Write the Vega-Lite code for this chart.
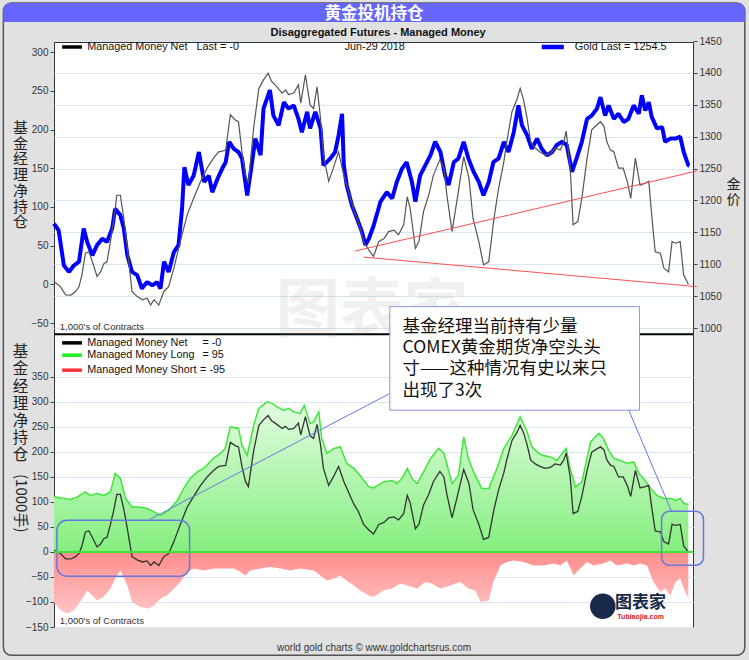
{
"$schema":"https://vega.github.io/schema/vega-lite/v6.json",
"width":639,"height":585,
"autosize":{"type":"none"},
"padding":{"left":54,"top":42,"right":56,"bottom":33},
"background":"#e1e1e1",
"config":{
 "view":{"stroke":"#333","strokeWidth":1,"fill":"#ffffff"},
 "axis":{"labelFont":"Liberation Sans","labelFontSize":10,"labelColor":"#333","tickColor":"#444","domain":false,"titleFont":"Noto Sans CJK SC","titleFontWeight":"normal","titleColor":"#222","gridColor":"#d9e5f3"},
 "text":{"font":"Liberation Sans"}
},
"datasets":{
"net":[
{"date":"2015-07-03","net":3.5},{"date":"2015-07-14","net":-3},{"date":"2015-07-23","net":-13.7},{"date":"2015-08-01","net":-14},{"date":"2015-08-09","net":-9.4},{"date":"2015-08-15","net":-3},{"date":"2015-08-20","net":12},{"date":"2015-08-26","net":40},{"date":"2015-09-01","net":42},{"date":"2015-09-07","net":29},{"date":"2015-09-15","net":10},{"date":"2015-09-21","net":16},{"date":"2015-09-27","net":27},{"date":"2015-10-02","net":29},{"date":"2015-10-08","net":55},{"date":"2015-10-14","net":85},{"date":"2015-10-19","net":115},{"date":"2015-10-25","net":115},{"date":"2015-10-31","net":85},{"date":"2015-11-06","net":46.5},{"date":"2015-11-14","net":-9.4},{"date":"2015-11-23","net":-16},{"date":"2015-12-02","net":-20},{"date":"2015-12-10","net":-18},{"date":"2015-12-16","net":-27},{"date":"2015-12-22","net":-20},{"date":"2015-12-30","net":-27},{"date":"2016-01-08","net":-9},{"date":"2016-01-16","net":-3},{"date":"2016-01-25","net":20.7},{"date":"2016-02-05","net":55},{"date":"2016-02-17","net":90},{"date":"2016-02-28","net":111},{"date":"2016-03-11","net":133},{"date":"2016-03-22","net":150},{"date":"2016-04-02","net":163},{"date":"2016-04-11","net":171},{"date":"2016-04-23","net":173},{"date":"2016-05-01","net":219},{"date":"2016-05-10","net":212},{"date":"2016-05-15","net":210},{"date":"2016-05-21","net":171},{"date":"2016-05-27","net":141},{"date":"2016-06-01","net":130.5},{"date":"2016-06-10","net":201.5},{"date":"2016-06-19","net":253},{"date":"2016-06-27","net":264},{"date":"2016-07-05","net":272.6},{"date":"2016-07-11","net":262},{"date":"2016-07-20","net":255},{"date":"2016-07-29","net":247},{"date":"2016-08-04","net":251},{"date":"2016-08-09","net":245},{"date":"2016-08-18","net":247},{"date":"2016-08-26","net":257.6},{"date":"2016-08-30","net":234},{"date":"2016-09-07","net":270.5},{"date":"2016-09-15","net":232},{"date":"2016-09-21","net":227},{"date":"2016-09-27","net":255},{"date":"2016-10-03","net":214},{"date":"2016-10-08","net":167},{"date":"2016-10-17","net":133},{"date":"2016-10-25","net":150},{"date":"2016-11-03","net":171},{"date":"2016-11-12","net":141},{"date":"2016-11-20","net":120},{"date":"2016-11-29","net":96},{"date":"2016-12-07","net":81},{"date":"2016-12-16","net":55},{"date":"2016-12-25","net":44},{"date":"2017-01-02","net":36},{"date":"2017-01-11","net":55},{"date":"2017-01-20","net":59},{"date":"2017-01-28","net":68},{"date":"2017-02-06","net":70},{"date":"2017-02-14","net":64},{"date":"2017-02-23","net":77},{"date":"2017-03-01","net":113},{"date":"2017-03-06","net":98},{"date":"2017-03-15","net":46.5},{"date":"2017-03-21","net":55},{"date":"2017-03-29","net":94},{"date":"2017-04-07","net":115.5},{"date":"2017-04-15","net":141},{"date":"2017-04-26","net":161},{"date":"2017-05-03","net":150},{"date":"2017-05-08","net":115.5},{"date":"2017-05-17","net":68},{"date":"2017-05-26","net":111},{"date":"2017-06-06","net":165},{"date":"2017-06-15","net":137},{"date":"2017-06-22","net":85},{"date":"2017-07-02","net":55},{"date":"2017-07-10","net":25},{"date":"2017-07-19","net":29},{"date":"2017-07-28","net":85},{"date":"2017-08-05","net":124},{"date":"2017-08-14","net":158.5},{"date":"2017-08-19","net":184},{"date":"2017-08-28","net":223},{"date":"2017-09-06","net":240},{"date":"2017-09-11","net":253},{"date":"2017-09-17","net":238},{"date":"2017-09-23","net":214},{"date":"2017-09-29","net":184},{"date":"2017-10-07","net":176},{"date":"2017-10-15","net":171},{"date":"2017-10-24","net":167},{"date":"2017-11-02","net":169},{"date":"2017-11-10","net":176},{"date":"2017-11-19","net":173.6},{"date":"2017-11-25","net":184},{"date":"2017-11-29","net":198},{"date":"2017-12-06","net":150},{"date":"2017-12-11","net":77},{"date":"2017-12-19","net":81},{"date":"2017-12-26","net":111},{"date":"2018-01-04","net":163},{"date":"2018-01-12","net":199.5},{"date":"2018-01-21","net":206},{"date":"2018-01-27","net":210},{"date":"2018-02-02","net":204},{"date":"2018-02-07","net":184},{"date":"2018-02-13","net":173.6},{"date":"2018-02-19","net":171},{"date":"2018-02-27","net":150},{"date":"2018-03-07","net":150},{"date":"2018-03-14","net":133},{"date":"2018-03-20","net":111},{"date":"2018-03-28","net":163},{"date":"2018-04-05","net":128},{"date":"2018-04-14","net":130.5},{"date":"2018-04-20","net":133},{"date":"2018-04-25","net":90},{"date":"2018-05-01","net":42},{"date":"2018-05-10","net":40},{"date":"2018-05-16","net":20.7},{"date":"2018-05-24","net":16},{"date":"2018-05-30","net":55},{"date":"2018-06-05","net":53},{"date":"2018-06-13","net":55},{"date":"2018-06-19","net":12},{"date":"2018-06-27","net":0}
],
"gold":[
{"date":"2015-07-03","gold":1163.6},{"date":"2015-07-11","gold":1153},{"date":"2015-07-20","gold":1098},{"date":"2015-07-29","gold":1088},{"date":"2015-08-06","gold":1098},{"date":"2015-08-15","gold":1104},{"date":"2015-08-23","gold":1156},{"date":"2015-08-29","gold":1135},{"date":"2015-09-07","gold":1114},{"date":"2015-09-15","gold":1130},{"date":"2015-09-24","gold":1140},{"date":"2015-10-02","gold":1135},{"date":"2015-10-11","gold":1156},{"date":"2015-10-16","gold":1187},{"date":"2015-10-25","gold":1177},{"date":"2015-10-31","gold":1156},{"date":"2015-11-06","gold":1114},{"date":"2015-11-14","gold":1088},{"date":"2015-11-23","gold":1083},{"date":"2015-12-01","gold":1062},{"date":"2015-12-10","gold":1072},{"date":"2015-12-19","gold":1067},{"date":"2015-12-27","gold":1072},{"date":"2016-01-02","gold":1062},{"date":"2016-01-08","gold":1104},{"date":"2016-01-16","gold":1088},{"date":"2016-01-25","gold":1119},{"date":"2016-02-02","gold":1130},{"date":"2016-02-08","gold":1187},{"date":"2016-02-12","gold":1252},{"date":"2016-02-19","gold":1224},{"date":"2016-02-28","gold":1239},{"date":"2016-03-08","gold":1276},{"date":"2016-03-17","gold":1229},{"date":"2016-03-25","gold":1239},{"date":"2016-03-31","gold":1213},{"date":"2016-04-09","gold":1234},{"date":"2016-04-17","gold":1250},{"date":"2016-04-23","gold":1260},{"date":"2016-04-29","gold":1292},{"date":"2016-05-07","gold":1281},{"date":"2016-05-15","gold":1276},{"date":"2016-05-21","gold":1266},{"date":"2016-05-30","gold":1208},{"date":"2016-06-05","gold":1245},{"date":"2016-06-13","gold":1297},{"date":"2016-06-22","gold":1271},{"date":"2016-06-27","gold":1344},{"date":"2016-07-08","gold":1373},{"date":"2016-07-14","gold":1333},{"date":"2016-07-23","gold":1318},{"date":"2016-08-01","gold":1354},{"date":"2016-08-09","gold":1344},{"date":"2016-08-18","gold":1349},{"date":"2016-08-26","gold":1328},{"date":"2016-09-01","gold":1307},{"date":"2016-09-10","gold":1339},{"date":"2016-09-15","gold":1313},{"date":"2016-09-24","gold":1339},{"date":"2016-10-03","gold":1313},{"date":"2016-10-08","gold":1255},{"date":"2016-10-20","gold":1266},{"date":"2016-10-28","gold":1276},{"date":"2016-11-03","gold":1302},{"date":"2016-11-09","gold":1336},{"date":"2016-11-12","gold":1255},{"date":"2016-11-17","gold":1224},{"date":"2016-11-26","gold":1192},{"date":"2016-12-05","gold":1171},{"date":"2016-12-13","gold":1151},{"date":"2016-12-19","gold":1130},{"date":"2016-12-25","gold":1140},{"date":"2017-01-02","gold":1160},{"date":"2017-01-14","gold":1198},{"date":"2017-01-25","gold":1213},{"date":"2017-02-03","gold":1203},{"date":"2017-02-11","gold":1229},{"date":"2017-02-20","gold":1250},{"date":"2017-02-28","gold":1260},{"date":"2017-03-09","gold":1229},{"date":"2017-03-15","gold":1198},{"date":"2017-03-23","gold":1239},{"date":"2017-04-01","gold":1255},{"date":"2017-04-10","gold":1271},{"date":"2017-04-18","gold":1292},{"date":"2017-04-27","gold":1276},{"date":"2017-05-05","gold":1239},{"date":"2017-05-11","gold":1224},{"date":"2017-05-20","gold":1260},{"date":"2017-05-28","gold":1266},{"date":"2017-06-06","gold":1292},{"date":"2017-06-14","gold":1266},{"date":"2017-06-23","gold":1245},{"date":"2017-07-02","gold":1229},{"date":"2017-07-10","gold":1208},{"date":"2017-07-19","gold":1229},{"date":"2017-07-27","gold":1260},{"date":"2017-08-05","gold":1266},{"date":"2017-08-14","gold":1292},{"date":"2017-08-22","gold":1276},{"date":"2017-08-31","gold":1307},{"date":"2017-09-08","gold":1349},{"date":"2017-09-14","gold":1318},{"date":"2017-09-23","gold":1302},{"date":"2017-10-01","gold":1281},{"date":"2017-10-10","gold":1297},{"date":"2017-10-18","gold":1281},{"date":"2017-10-27","gold":1271},{"date":"2017-11-05","gold":1276},{"date":"2017-11-13","gold":1287},{"date":"2017-11-22","gold":1292},{"date":"2017-11-30","gold":1287},{"date":"2017-12-09","gold":1245},{"date":"2017-12-17","gold":1266},{"date":"2017-12-26","gold":1292},{"date":"2018-01-04","gold":1328},{"date":"2018-01-12","gold":1333},{"date":"2018-01-21","gold":1344},{"date":"2018-01-27","gold":1362},{"date":"2018-02-04","gold":1333},{"date":"2018-02-10","gold":1349},{"date":"2018-02-19","gold":1328},{"date":"2018-02-27","gold":1336},{"date":"2018-03-08","gold":1323},{"date":"2018-03-16","gold":1328},{"date":"2018-03-25","gold":1349},{"date":"2018-04-03","gold":1336},{"date":"2018-04-08","gold":1365},{"date":"2018-04-14","gold":1341},{"date":"2018-04-20","gold":1354},{"date":"2018-04-25","gold":1331},{"date":"2018-05-04","gold":1313},{"date":"2018-05-13","gold":1315},{"date":"2018-05-18","gold":1292},{"date":"2018-05-27","gold":1297},{"date":"2018-06-05","gold":1297},{"date":"2018-06-13","gold":1300},{"date":"2018-06-19","gold":1276},{"date":"2018-06-27","gold":1255},{"date":"2018-06-29","gold":1254.5}
],
"long":[
{"date":"2015-07-03","long":111},{"date":"2015-07-14","long":108},{"date":"2015-08-01","long":105},{"date":"2015-08-12","long":110},{"date":"2015-08-26","long":120},{"date":"2015-09-03","long":113},{"date":"2015-09-15","long":117},{"date":"2015-09-26","long":113},{"date":"2015-10-08","long":120},{"date":"2015-10-16","long":157},{"date":"2015-10-25","long":147},{"date":"2015-11-03","long":107},{"date":"2015-11-14","long":90},{"date":"2015-11-26","long":90},{"date":"2015-12-10","long":87},{"date":"2015-12-22","long":80},{"date":"2016-01-02","long":73},{"date":"2016-01-16","long":83},{"date":"2016-01-31","long":103},{"date":"2016-02-11","long":127},{"date":"2016-02-22","long":147},{"date":"2016-03-05","long":160},{"date":"2016-03-16","long":167},{"date":"2016-04-02","long":187},{"date":"2016-04-14","long":197},{"date":"2016-04-22","long":207},{"date":"2016-05-01","long":250},{"date":"2016-05-15","long":247},{"date":"2016-05-21","long":213},{"date":"2016-05-30","long":193},{"date":"2016-06-10","long":253},{"date":"2016-06-19","long":287},{"date":"2016-07-03","long":300},{"date":"2016-07-12","long":297},{"date":"2016-07-20","long":290},{"date":"2016-08-01","long":283},{"date":"2016-08-09","long":287},{"date":"2016-08-18","long":280},{"date":"2016-08-29","long":277},{"date":"2016-09-05","long":293},{"date":"2016-09-15","long":257},{"date":"2016-09-21","long":260},{"date":"2016-09-30","long":280},{"date":"2016-10-05","long":227},{"date":"2016-10-14","long":197},{"date":"2016-10-26","long":207},{"date":"2016-11-06","long":210},{"date":"2016-11-17","long":177},{"date":"2016-11-29","long":167},{"date":"2016-12-10","long":153},{"date":"2016-12-25","long":130},{"date":"2017-01-02","long":128},{"date":"2017-01-19","long":140},{"date":"2017-02-03","long":143},{"date":"2017-02-11","long":137},{"date":"2017-02-20","long":147},{"date":"2017-03-01","long":167},{"date":"2017-03-09","long":147},{"date":"2017-03-18","long":137},{"date":"2017-03-29","long":160},{"date":"2017-04-10","long":187},{"date":"2017-04-24","long":207},{"date":"2017-05-03","long":197},{"date":"2017-05-17","long":137},{"date":"2017-05-28","long":153},{"date":"2017-06-06","long":230},{"date":"2017-06-14","long":187},{"date":"2017-06-23","long":160},{"date":"2017-07-07","long":127},{"date":"2017-07-19","long":127},{"date":"2017-08-02","long":167},{"date":"2017-08-14","long":207},{"date":"2017-08-28","long":233},{"date":"2017-09-11","long":270},{"date":"2017-09-23","long":240},{"date":"2017-10-01","long":210},{"date":"2017-10-13","long":197},{"date":"2017-10-21","long":193},{"date":"2017-11-02","long":190},{"date":"2017-11-13","long":183},{"date":"2017-11-22","long":197},{"date":"2017-11-29","long":207},{"date":"2017-12-06","long":167},{"date":"2017-12-15","long":130},{"date":"2017-12-26","long":140},{"date":"2018-01-10","long":220},{"date":"2018-01-24","long":237},{"date":"2018-02-01","long":227},{"date":"2018-02-10","long":203},{"date":"2018-02-19","long":187},{"date":"2018-03-02","long":183},{"date":"2018-03-14","long":177},{"date":"2018-03-25","long":180},{"date":"2018-04-03","long":157},{"date":"2018-04-11","long":147},{"date":"2018-04-23","long":127},{"date":"2018-05-04","long":113},{"date":"2018-05-16","long":107},{"date":"2018-05-29","long":107},{"date":"2018-06-05","long":103},{"date":"2018-06-13","long":107},{"date":"2018-06-19","long":97},{"date":"2018-06-27","long":95}
],
"short":[
{"date":"2015-07-03","short":-100},{"date":"2015-07-14","short":-117},{"date":"2015-07-26","short":-123},{"date":"2015-08-06","short":-117},{"date":"2015-08-17","short":-100},{"date":"2015-08-29","short":-77},{"date":"2015-09-07","short":-87},{"date":"2015-09-15","short":-97},{"date":"2015-09-26","short":-90},{"date":"2015-10-08","short":-73},{"date":"2015-10-16","short":-53},{"date":"2015-10-25","short":-37},{"date":"2015-11-06","short":-67},{"date":"2015-11-14","short":-100},{"date":"2015-11-28","short":-110},{"date":"2015-12-13","short":-113},{"date":"2015-12-22","short":-107},{"date":"2016-01-02","short":-93},{"date":"2016-01-13","short":-87},{"date":"2016-01-25","short":-73},{"date":"2016-02-05","short":-60},{"date":"2016-02-17","short":-40},{"date":"2016-02-28","short":-33},{"date":"2016-03-16","short":-37},{"date":"2016-04-02","short":-33},{"date":"2016-04-20","short":-33},{"date":"2016-05-07","short":-33},{"date":"2016-05-18","short":-40},{"date":"2016-05-27","short":-47},{"date":"2016-06-04","short":-37},{"date":"2016-06-22","short":-33},{"date":"2016-07-09","short":-30},{"date":"2016-07-26","short":-33},{"date":"2016-08-12","short":-37},{"date":"2016-08-29","short":-33},{"date":"2016-09-21","short":-37},{"date":"2016-10-03","short":-47},{"date":"2016-10-14","short":-57},{"date":"2016-10-26","short":-53},{"date":"2016-11-06","short":-47},{"date":"2016-11-17","short":-57},{"date":"2016-11-29","short":-67},{"date":"2016-12-10","short":-77},{"date":"2016-12-25","short":-87},{"date":"2017-01-02","short":-90},{"date":"2017-01-19","short":-77},{"date":"2017-02-03","short":-73},{"date":"2017-02-17","short":-63},{"date":"2017-03-01","short":-67},{"date":"2017-03-18","short":-73},{"date":"2017-04-01","short":-60},{"date":"2017-04-12","short":-63},{"date":"2017-04-27","short":-73},{"date":"2017-05-14","short":-67},{"date":"2017-05-31","short":-60},{"date":"2017-06-14","short":-73},{"date":"2017-06-26","short":-77},{"date":"2017-07-05","short":-100},{"date":"2017-07-19","short":-97},{"date":"2017-07-27","short":-60},{"date":"2017-08-08","short":-27},{"date":"2017-08-19","short":-20},{"date":"2017-08-31","short":-17},{"date":"2017-09-17","short":-20},{"date":"2017-10-04","short":-27},{"date":"2017-10-21","short":-27},{"date":"2017-11-08","short":-23},{"date":"2017-11-19","short":-27},{"date":"2017-11-30","short":-17},{"date":"2017-12-12","short":-47},{"date":"2017-12-23","short":-33},{"date":"2018-01-04","short":-20},{"date":"2018-01-15","short":-27},{"date":"2018-02-01","short":-23},{"date":"2018-02-13","short":-17},{"date":"2018-02-24","short":-27},{"date":"2018-03-14","short":-23},{"date":"2018-03-25","short":-27},{"date":"2018-04-05","short":-23},{"date":"2018-04-17","short":-27},{"date":"2018-04-28","short":-60},{"date":"2018-05-10","short":-80},{"date":"2018-05-18","short":-73},{"date":"2018-05-27","short":-87},{"date":"2018-06-05","short":-60},{"date":"2018-06-13","short":-53},{"date":"2018-06-19","short":-73},{"date":"2018-06-27","short":-93}
]
},
"layer":[
{"layer":[
 {"data":{"name":"gold"},"mark":{"type":"line","color":"#0000ff","strokeWidth":4,"strokeJoin":"bevel"},
  "encoding":{"x":{"field":"date","type":"temporal","axis":null},
   "y":{"field":"gold","type":"quantitative","scale":{"domain":[992.2,1450],"range":[291,-1],"nice":false,"zero":false},
    "axis":{"orient":"right","values":[1000,1050,1100,1150,1200,1250,1300,1350,1400,1450],"format":"d","grid":true,"tickSize":4,"labelPadding":2,
     "title":["金","价"],"titleAngle":0,"titleX":40,"titleY":142,"titleAlign":"center","titleBaseline":"middle","titleFontSize":14,"titleLineHeight":15.5}}}}
]},
{"layer":[
 {"data":{"name":"net"},"mark":{"type":"line","color":"#555555","strokeWidth":1.2},
  "encoding":{"x":{"field":"date","type":"temporal","axis":null},
   "y":{"field":"net","type":"quantitative","scale":{"domain":[-63,313],"range":[291,0],"nice":false,"zero":false},"axis":null}}}
]},
{"layer":[
 {"data":{"name":"long"},"mark":{"type":"area","opacity":1,"fill":{"gradient":"linear","x1":0,"y1":0,"x2":0,"y2":1,"stops":[{"offset":0,"color":"#e3fce1"},{"offset":1,"color":"#84ef7e"}]},"line":{"color":"#3ee83a","strokeWidth":1.5}},
  "encoding":{"x":{"field":"date","type":"temporal",
    "scale":{"type":"utc","domain":[{"year":2015,"month":7,"date":3,"utc":true},{"year":2018,"month":7,"date":5,"utc":true}]},
    "axis":{"values":[{"year":2015,"month":10,"date":1,"utc":true},{"year":2016,"month":1,"date":1,"utc":true},{"year":2016,"month":4,"date":1,"utc":true},{"year":2016,"month":7,"date":1,"utc":true},{"year":2016,"month":10,"date":1,"utc":true},{"year":2017,"month":1,"date":1,"utc":true},{"year":2017,"month":4,"date":1,"utc":true},{"year":2017,"month":7,"date":1,"utc":true},{"year":2017,"month":10,"date":1,"utc":true},{"year":2018,"month":1,"date":1,"utc":true},{"year":2018,"month":4,"date":1,"utc":true}],
     "labelExpr":"utcFormat(datum.value, '%m') == '01' ? utcFormat(datum.value, '%Y') : (utcFormat(datum.value, '%Y%m') == '201510' ? '2015' : utcFormat(datum.value, '%b'))",
     "title":null,"grid":true,"tickSize":4,"labelFontWeight":"bold","labelColor":"#222","labelPadding":1}},
   "y":{"field":"long","type":"quantitative","scale":{"domain":[-150,1019.4],"range":[585,0],"nice":false,"zero":false},"axis":null},
   "y2":{"datum":0}}},
 {"data":{"name":"short"},"mark":{"type":"area","opacity":1,"fill":{"gradient":"linear","x1":0,"y1":0,"x2":0,"y2":1,"stops":[{"offset":0,"color":"#ff8d8d"},{"offset":1,"color":"#ffc4c4"}]}},
  "encoding":{"x":{"field":"date","type":"temporal","axis":null},"y":{"field":"short","type":"quantitative","axis":null},"y2":{"datum":0}}},
 {"data":{"name":"net"},"mark":{"type":"line","color":"#333333","strokeWidth":1.3},
  "encoding":{"x":{"field":"date","type":"temporal","axis":null},"y":{"field":"net","type":"quantitative","axis":null}}},
 {"data":{"values":[{}]},"mark":{"type":"rule","color":"#000000","strokeWidth":2},"encoding":{"y":{"datum":435.4,"type":"quantitative","axis":null}}},
 {"data":{"values":[{}]},"mark":{"type":"rule","color":"#ff5050","strokeWidth":1},"encoding":{"x":{"datum":{"year":2016,"month":12,"date":1,"utc":true},"type":"temporal","axis":null},"x2":{"datum":{"year":2018,"month":7,"date":11,"utc":true}},"y":{"datum":601.4,"type":"quantitative","axis":null},"y2":{"datum":761.4}}},
 {"data":{"values":[{}]},"mark":{"type":"rule","color":"#ff5050","strokeWidth":1},"encoding":{"x":{"datum":{"year":2016,"month":12,"date":16,"utc":true},"type":"temporal","axis":null},"x2":{"datum":{"year":2018,"month":7,"date":11,"utc":true}},"y":{"datum":589.4,"type":"quantitative","axis":null},"y2":{"datum":530.4}}},
 {"data":{"values":[{}]},"mark":{"type":"rect","fill":"transparent","stroke":"#555555","strokeWidth":1.5,"cornerRadius":8},"encoding":{"x":{"datum":{"year":2015,"month":4,"date":7,"utc":true},"type":"temporal","axis":null},"x2":{"datum":{"year":2018,"month":10,"date":2,"utc":true}},"y":{"datum":1097.4,"type":"quantitative","axis":null},"y2":{"datum":-206.6}}},
 {"data":{"values":[{}]},"mark":{"type":"rect","fill":"#6666ff","cornerRadiusTopLeft":7,"cornerRadiusTopRight":7},"encoding":{"x":{"datum":{"year":2015,"month":4,"date":7,"utc":true},"type":"temporal","axis":null},"x2":{"datum":{"year":2018,"month":10,"date":2,"utc":true}},"y":{"datum":1097.4,"type":"quantitative","axis":null},"y2":{"datum":1059.4}}},
 {"data":{"values":[{}]},"mark":{"type":"text","text":"黄金投机持仓","font":"Noto Sans CJK SC","fontWeight":"bold","fontSize":16.5,"color":"#ffffff","align":"center","baseline":"middle"},"encoding":{"x":{"datum":{"year":2017,"month":1,"date":3,"utc":true},"type":"temporal","axis":null},"y":{"datum":1075.4,"type":"quantitative","axis":null}}},
 {"data":{"values":[{}]},"mark":{"type":"text","text":"Disaggregated Futures - Managed Money","fontWeight":"bold","fontSize":11,"color":"#111111","align":"center","baseline":"middle"},"encoding":{"x":{"datum":{"year":2017,"month":1,"date":10,"utc":true},"type":"temporal","axis":null},"y":{"datum":1037.4,"type":"quantitative","axis":null}}},
 {"data":{"values":[{}]},"mark":{"type":"text","text":"world gold charts © www.goldchartsrus.com","fontSize":10,"color":"#333333","align":"center","baseline":"middle"},"encoding":{"x":{"datum":{"year":2017,"month":1,"date":3,"utc":true},"type":"temporal","axis":null},"y":{"datum":-192.6,"type":"quantitative","axis":null}}},
 {"data":{"values":[{}]},"mark":{"type":"text","text":["基","金","经","理","净","持","仓"],"font":"Noto Sans CJK SC","fontSize":15,"lineHeight":15.7,"color":"#222222","align":"center","baseline":"middle","dx":-33.5},"encoding":{"x":{"datum":{"year":2015,"month":7,"date":3,"utc":true},"type":"temporal","axis":null},"y":{"datum":847.4,"type":"quantitative","axis":null}}},
 {"data":{"values":[{}]},"mark":{"type":"text","text":["基","金","经","理","净","持","仓"],"font":"Noto Sans CJK SC","fontSize":15.5,"lineHeight":17.2,"color":"#222222","align":"center","baseline":"middle","dx":-33.5},"encoding":{"x":{"datum":{"year":2015,"month":7,"date":3,"utc":true},"type":"temporal","axis":null},"y":{"datum":399.4,"type":"quantitative","axis":null}}},
 {"data":{"values":[{}]},"mark":{"type":"text","text":"(1000手)","font":"Noto Sans CJK SC","fontSize":15,"color":"#222222","align":"center","baseline":"middle","angle":90,"dy":33.5},"encoding":{"x":{"datum":{"year":2015,"month":7,"date":3,"utc":true},"type":"temporal","axis":null},"y":{"datum":97.4,"type":"quantitative","axis":null}}},
 {"data":{"values":[{}]},"mark":{"type":"rule","color":"#000000","strokeWidth":3.5},"encoding":{"x":{"datum":{"year":2015,"month":7,"date":17,"utc":true},"type":"temporal","axis":null},"x2":{"datum":{"year":2015,"month":8,"date":20,"utc":true}},"y":{"datum":1009.4,"type":"quantitative","axis":null}}},
 {"data":{"values":[{}]},"mark":{"type":"text","text":"Managed Money Net","fontSize":10.8,"color":"#111111","align":"left","baseline":"middle"},"encoding":{"x":{"datum":{"year":2015,"month":8,"date":29,"utc":true},"type":"temporal","axis":null},"y":{"datum":1009.4,"type":"quantitative","axis":null}}},
 {"data":{"values":[{}]},"mark":{"type":"text","text":"Last = -0","fontSize":10.8,"color":"#111111","align":"left","baseline":"middle"},"encoding":{"x":{"datum":{"year":2016,"month":3,"date":4,"utc":true},"type":"temporal","axis":null},"y":{"datum":1009.4,"type":"quantitative","axis":null}}},
 {"data":{"values":[{}]},"mark":{"type":"text","text":"Jun-29  2018","fontSize":10.8,"color":"#111111","align":"center","baseline":"middle"},"encoding":{"x":{"datum":{"year":2017,"month":1,"date":4,"utc":true},"type":"temporal","axis":null},"y":{"datum":1009.4,"type":"quantitative","axis":null}}},
 {"data":{"values":[{}]},"mark":{"type":"rule","color":"#0000ff","strokeWidth":4.5},"encoding":{"x":{"datum":{"year":2017,"month":10,"date":18,"utc":true},"type":"temporal","axis":null},"x2":{"datum":{"year":2017,"month":11,"date":25,"utc":true}},"y":{"datum":1009.4,"type":"quantitative","axis":null}}},
 {"data":{"values":[{}]},"mark":{"type":"text","text":"Gold Last = 1254.5","fontSize":10.8,"color":"#111111","align":"left","baseline":"middle"},"encoding":{"x":{"datum":{"year":2017,"month":12,"date":14,"utc":true},"type":"temporal","axis":null},"y":{"datum":1009.4,"type":"quantitative","axis":null}}},
 {"data":{"values":[{}]},"mark":{"type":"rule","color":"#000000","strokeWidth":3.5},"encoding":{"x":{"datum":{"year":2015,"month":7,"date":17,"utc":true},"type":"temporal","axis":null},"x2":{"datum":{"year":2015,"month":8,"date":20,"utc":true}},"y":{"datum":418,"type":"quantitative","axis":null}}},
 {"data":{"values":[{}]},"mark":{"type":"rule","color":"#22ee22","strokeWidth":3.5},"encoding":{"x":{"datum":{"year":2015,"month":7,"date":17,"utc":true},"type":"temporal","axis":null},"x2":{"datum":{"year":2015,"month":8,"date":20,"utc":true}},"y":{"datum":393.4,"type":"quantitative","axis":null}}},
 {"data":{"values":[{}]},"mark":{"type":"rule","color":"#ff3333","strokeWidth":3.5},"encoding":{"x":{"datum":{"year":2015,"month":7,"date":17,"utc":true},"type":"temporal","axis":null},"x2":{"datum":{"year":2015,"month":8,"date":20,"utc":true}},"y":{"datum":363.4,"type":"quantitative","axis":null}}},
 {"data":{"values":[{}]},"mark":{"type":"text","text":"Managed Money Net","fontSize":10.8,"color":"#111111","align":"left","baseline":"middle"},"encoding":{"x":{"datum":{"year":2015,"month":8,"date":29,"utc":true},"type":"temporal","axis":null},"y":{"datum":418,"type":"quantitative","axis":null}}},
 {"data":{"values":[{}]},"mark":{"type":"text","text":"Managed Money Long","fontSize":10.8,"color":"#111111","align":"left","baseline":"middle"},"encoding":{"x":{"datum":{"year":2015,"month":8,"date":29,"utc":true},"type":"temporal","axis":null},"y":{"datum":393.4,"type":"quantitative","axis":null}}},
 {"data":{"values":[{}]},"mark":{"type":"text","text":"Managed Money Short","fontSize":10.8,"color":"#111111","align":"left","baseline":"middle"},"encoding":{"x":{"datum":{"year":2015,"month":8,"date":29,"utc":true},"type":"temporal","axis":null},"y":{"datum":363.4,"type":"quantitative","axis":null}}},
 {"data":{"values":[{}]},"mark":{"type":"text","text":"= -0","fontSize":10.8,"color":"#111111","align":"left","baseline":"middle"},"encoding":{"x":{"datum":{"year":2016,"month":3,"date":14,"utc":true},"type":"temporal","axis":null},"y":{"datum":418,"type":"quantitative","axis":null}}},
 {"data":{"values":[{}]},"mark":{"type":"text","text":"= 95","fontSize":10.8,"color":"#111111","align":"left","baseline":"middle"},"encoding":{"x":{"datum":{"year":2016,"month":3,"date":14,"utc":true},"type":"temporal","axis":null},"y":{"datum":393.4,"type":"quantitative","axis":null}}},
 {"data":{"values":[{}]},"mark":{"type":"text","text":"= -95","fontSize":10.8,"color":"#111111","align":"left","baseline":"middle"},"encoding":{"x":{"datum":{"year":2016,"month":3,"date":10,"utc":true},"type":"temporal","axis":null},"y":{"datum":363.4,"type":"quantitative","axis":null}}},
 {"data":{"values":[{}]},"mark":{"type":"text","text":"1,000's of Contracts","fontSize":9.5,"color":"#333333","align":"left","baseline":"middle"},"encoding":{"x":{"datum":{"year":2015,"month":7,"date":13,"utc":true},"type":"temporal","axis":null},"y":{"datum":449.4,"type":"quantitative","axis":null}}},
 {"data":{"values":[{}]},"mark":{"type":"text","text":"1,000's of Contracts","fontSize":9.5,"color":"#333333","align":"left","baseline":"middle"},"encoding":{"x":{"datum":{"year":2015,"month":7,"date":13,"utc":true},"type":"temporal","axis":null},"y":{"datum":-138.6,"type":"quantitative","axis":null}}},
 {"data":{"values":[{}]},"mark":{"type":"text","text":"图表家","font":"Noto Sans CJK SC","fontWeight":"bold","fontSize":64,"color":"#888888","opacity":0.12,"align":"center","baseline":"middle"},"encoding":{"x":{"datum":{"year":2016,"month":12,"date":30,"utc":true},"type":"temporal","axis":null},"y":{"datum":479.4,"type":"quantitative","axis":null}}},
 {"data":{"values":[{}]},"mark":{"type":"point","shape":"circle","filled":true,"size":650,"color":"#18294a","opacity":1},"encoding":{"x":{"datum":{"year":2018,"month":1,"date":31,"utc":true},"type":"temporal","axis":null},"y":{"datum":-108.6,"type":"quantitative","axis":null}}},
 {"data":{"values":[{}]},"mark":{"type":"text","text":"图表家","font":"Noto Sans CJK SC","fontWeight":"bold","fontSize":17,"color":"#18294a","align":"center","baseline":"middle"},"encoding":{"x":{"datum":{"year":2018,"month":4,"date":6,"utc":true},"type":"temporal","axis":null},"y":{"datum":-102.6,"type":"quantitative","axis":null}}},
 {"data":{"values":[{}]},"mark":{"type":"text","text":"Tubiaojia.com","fontSize":7,"fontWeight":"bold","color":"#cc2222","align":"center","baseline":"middle"},"encoding":{"x":{"datum":{"year":2018,"month":4,"date":6,"utc":true},"type":"temporal","axis":null},"y":{"datum":-130.6,"type":"quantitative","axis":null}}},
 {"data":{"values":[{}]},"mark":{"type":"rect","fill":"transparent","stroke":"#6677dd","strokeWidth":1.5,"cornerRadius":10},"encoding":{"x":{"datum":{"year":2015,"month":7,"date":8,"utc":true},"type":"temporal","axis":null},"x2":{"datum":{"year":2016,"month":2,"date":21,"utc":true}},"y":{"datum":63.4,"type":"quantitative","axis":null},"y2":{"datum":-48.6}}},
 {"data":{"values":[{}]},"mark":{"type":"rect","fill":"transparent","stroke":"#6677dd","strokeWidth":1.5,"cornerRadius":8},"encoding":{"x":{"datum":{"year":2018,"month":5,"date":12,"utc":true},"type":"temporal","axis":null},"x2":{"datum":{"year":2018,"month":7,"date":23,"utc":true}},"y":{"datum":81.4,"type":"quantitative","axis":null},"y2":{"datum":-26.6}}},
 {"data":{"values":[{}]},"mark":{"type":"rule","color":"#6677dd","strokeWidth":1},"encoding":{"x":{"datum":{"year":2015,"month":12,"date":15,"utc":true},"type":"temporal","axis":null},"x2":{"datum":{"year":2017,"month":1,"date":31,"utc":true}},"y":{"datum":65.4,"type":"quantitative","axis":null},"y2":{"datum":317.4}}},
 {"data":{"values":[{}]},"mark":{"type":"rule","color":"#6677dd","strokeWidth":1},"encoding":{"x":{"datum":{"year":2018,"month":3,"date":16,"utc":true},"type":"temporal","axis":null},"x2":{"datum":{"year":2018,"month":5,"date":29,"utc":true}},"y":{"datum":285.4,"type":"quantitative","axis":null},"y2":{"datum":81.4}}},
 {"data":{"values":[{}]},"mark":{"type":"rect","fill":"#ffffff","stroke":"#8796e0","strokeWidth":1},"encoding":{"x":{"datum":{"year":2017,"month":1,"date":30,"utc":true},"type":"temporal","axis":null},"x2":{"datum":{"year":2018,"month":4,"date":4,"utc":true}},"y":{"datum":490.4,"type":"quantitative","axis":null},"y2":{"datum":283.4}}},
 {"data":{"values":[{}]},"mark":{"type":"text","text":["基金经理当前持有少量","COMEX黄金期货净空头头","寸——这种情况有史以来只","出现了3次"],"font":"Noto Sans CJK SC","fontSize":17.5,"lineHeight":21.3,"color":"#111111","align":"left","baseline":"middle"},"encoding":{"x":{"datum":{"year":2017,"month":2,"date":21,"utc":true},"type":"temporal","axis":null},"y":{"datum":450,"type":"quantitative","axis":null}}}
]},
{"layer":[
 {"data":{"values":[{}]},"mark":{"type":"rule","color":"#3ee03a","strokeWidth":2},
  "encoding":{"y":{"datum":0,"type":"quantitative","scale":{"domain":[-150,1019.4],"range":[585,0],"nice":false,"zero":false},
   "axis":{"orient":"left","values":[-150,-100,-50,0,50,100,150,200,250,300,350,457.3,534.7,612.2,689.6,767.0,844.4,921.8,999.3],
     "labelExpr":"datum.value > 440 ? format(round((datum.value - 534.7) / 1.5486 / 50) * 50, 'd') : format(datum.value, 'd')",
     "grid":true,"gridOpacity":{"condition":{"test":"datum.value > 440","value":0},"value":1},"tickSize":4,"labelPadding":2,"title":null}}}}
]}
],
"resolve":{"scale":{"y":"independent"}}
}
